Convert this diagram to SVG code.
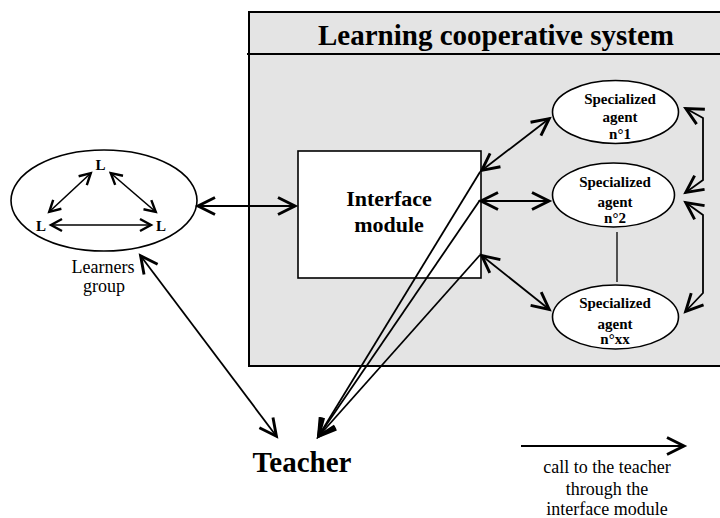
<svg xmlns="http://www.w3.org/2000/svg" width="720" height="518" viewBox="0 0 720 518">
  <style>
    text { font-family: "Liberation Serif", "Times New Roman", serif; fill: #000; }
    .b { font-weight: bold; }
    .title { font-size: 29px; font-weight: bold; }
    .agent { font-size: 15px; font-weight: bold; }
    .lbl { font-size: 18px; }
    .shape { fill: #fff; stroke: #000; stroke-width: 1.6; }
    .con { fill: none; stroke: #000; stroke-width: 1.8; }
    .big { marker-start: url(#head); marker-end: url(#head); }
    .small { fill: none; stroke: #000; stroke-width: 1.6; marker-start: url(#headS); marker-end: url(#headS); }
  </style>
  <defs>
    <marker id="head" markerUnits="userSpaceOnUse" viewBox="-22 -12 24 24" refX="0" refY="0" markerWidth="24" markerHeight="24" orient="auto-start-reverse" overflow="visible">
      <path d="M-18,-8.5 L-1,0 L-18,8.5" fill="none" stroke="#000" stroke-width="2.9" stroke-linejoin="miter"/>
    </marker>
    <marker id="headS" markerUnits="userSpaceOnUse" viewBox="-14 -8 16 16" refX="0" refY="0" markerWidth="16" markerHeight="16" orient="auto-start-reverse" overflow="visible">
      <path d="M-12,-6 L-1,0 L-12,6" fill="none" stroke="#000" stroke-width="2.4" stroke-linejoin="miter"/>
    </marker>
  </defs>

  <!-- cooperative system frame -->
  <g id="system">
    <rect x="249" y="12" width="480" height="354" fill="#e4e4e4" stroke="#000" stroke-width="2"/>
    <line x1="247" y1="54" x2="720" y2="54" stroke="#000" stroke-width="2"/>
    <text class="title" x="496" y="45" text-anchor="middle">Learning cooperative system</text>
  </g>

  <!-- learners group -->
  <g id="learners">
    <ellipse class="shape" cx="104" cy="200.5" rx="93" ry="50.5"/>
    <text class="b" x="100.5" y="170" font-size="15" text-anchor="middle">L</text>
    <text class="b" x="41" y="231" font-size="15" text-anchor="middle">L</text>
    <text class="b" x="161" y="231" font-size="15" text-anchor="middle">L</text>
    <line class="small" x1="48.5" y1="212.5" x2="91.5" y2="172.5"/>
    <line class="small" x1="110" y1="172.5" x2="156.5" y2="212.5"/>
    <line class="small" x1="50" y1="225" x2="152" y2="225"/>
    <text class="lbl" x="103" y="273" text-anchor="middle">Learners</text>
    <text class="lbl" x="104" y="292" text-anchor="middle">group</text>
  </g>

  <!-- interface module -->
  <g id="interface">
    <rect class="shape" x="298" y="151" width="183" height="127"/>
    <text class="b" x="389" y="206" font-size="22" text-anchor="middle">Interface</text>
    <text class="b" x="389" y="232" font-size="22" text-anchor="middle">module</text>
  </g>

  <!-- specialized agents -->
  <g id="agent1">
    <ellipse class="shape" cx="615.5" cy="112" rx="63" ry="31.5"/>
    <text class="agent" x="620" y="104" text-anchor="middle">Specialized</text>
    <text class="agent" x="620" y="122" text-anchor="middle">agent</text>
    <text class="agent" x="620" y="138.5" text-anchor="middle">n°1</text>
  </g>
  <g id="agent2">
    <ellipse class="shape" cx="613.5" cy="195" rx="61" ry="32"/>
    <text class="agent" x="615" y="186.5" text-anchor="middle">Specialized</text>
    <text class="agent" x="615" y="207" text-anchor="middle">agent</text>
    <text class="agent" x="615" y="222.5" text-anchor="middle">n°2</text>
  </g>
  <g id="agentxx">
    <ellipse class="shape" cx="615.5" cy="317" rx="63" ry="32"/>
    <text class="agent" x="615" y="307.5" text-anchor="middle">Specialized</text>
    <text class="agent" x="615" y="329" text-anchor="middle">agent</text>
    <text class="agent" x="615" y="344" text-anchor="middle">n°xx</text>
  </g>

  <!-- teacher -->
  <g id="teacher">
    <text class="title" x="302" y="472" text-anchor="middle">Teacher</text>
  </g>

  <!-- legend -->
  <g id="legend">
    <line class="con" x1="521" y1="446" x2="685" y2="446" marker-end="url(#head)"/>
    <text class="lbl" x="607" y="473" text-anchor="middle">call to the teacher</text>
    <text class="lbl" x="607" y="495" text-anchor="middle">through the</text>
    <text class="lbl" x="607" y="515" text-anchor="middle">interface module</text>
  </g>

  <!-- connectors -->
  <g id="connectors">
    <line class="con big" x1="197" y1="206" x2="296" y2="206"/>
    <line class="con big" x1="140" y1="255" x2="277" y2="437"/>
    <line class="con big" x1="481" y1="171" x2="550" y2="118"/>
    <line class="con big" x1="480" y1="201" x2="550" y2="201"/>
    <line class="con big" x1="481" y1="255" x2="550" y2="310"/>
    <polyline class="con big" points="685,108 703,118 703,180 685,193"/>
    <polyline class="con big" points="685,202 703,215 703,293 685,312"/>
    <line x1="617" y1="232" x2="617" y2="282" stroke="#000" stroke-width="1.3"/>
    <line class="con" x1="480" y1="172" x2="318" y2="437" marker-end="url(#head)"/>
    <line class="con" x1="480" y1="200" x2="318" y2="437" marker-end="url(#head)"/>
    <line class="con" x1="480" y1="255" x2="318" y2="437" marker-end="url(#head)"/>
  </g>
</svg>
